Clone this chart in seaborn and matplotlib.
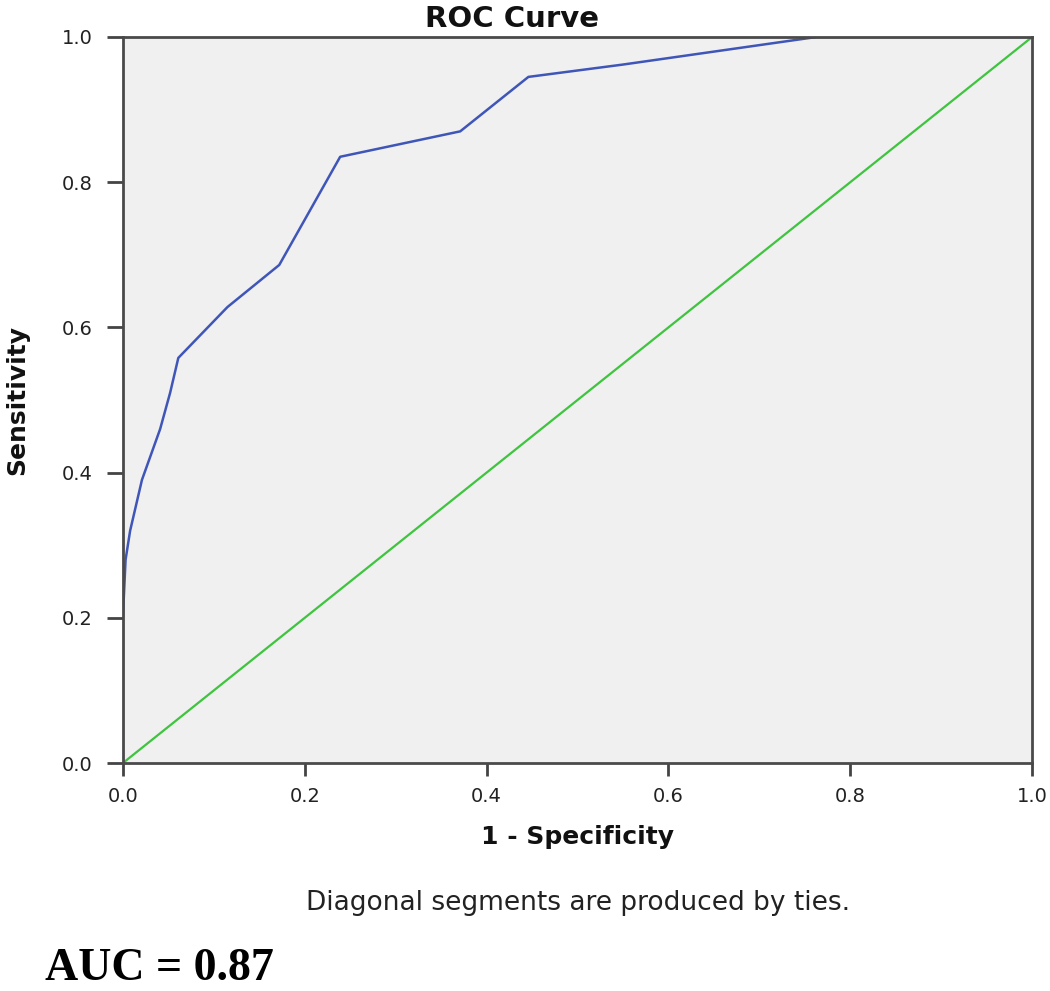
import pandas as pd
import seaborn as sns
from matplotlib import pyplot as plt

# ROC points
fpr = [0.0, 0.0, 0.003, 0.008, 0.021, 0.041, 0.052, 0.061, 0.115, 0.172,
       0.239, 0.371, 0.446, 0.55, 0.763, 1.0]
tpr = [0.0, 0.20, 0.28, 0.32, 0.39, 0.46, 0.51, 0.558, 0.628, 0.686,
       0.835, 0.870, 0.945, 0.962, 1.0, 1.0]
ref_x = [0.0, 1.0]
ref_y = [0.0, 1.0]
ticks = [0.0, 0.2, 0.4, 0.6, 0.8, 1.0]
tick_labels = ["0.0", "0.2", "0.4", "0.6", "0.8", "1.0"]

sns.set_style("ticks")
plt.rcParams['font.family'] = ['DejaVu Sans']

df_roc = pd.DataFrame({"x": fpr, "y": tpr})
df_ref = pd.DataFrame({"x": ref_x, "y": ref_y})

fig = plt.figure(figsize=(10.5, 9.91), dpi=100)
ax = fig.add_axes([0.117, 0.230, 0.866, 0.7327])
ax.set_facecolor("#f0f0f0")

sns.lineplot(data=df_ref, x="x", y="y", ax=ax, color="#3ec43e", linewidth=1.6,
             sort=False, estimator=None)
sns.lineplot(data=df_roc, x="x", y="y", ax=ax, color="#3f56b8", linewidth=1.8,
             sort=False, estimator=None)

ax.set_xlim(0, 1)
ax.set_ylim(0, 1)
ax.set_xticks(ticks)
ax.set_xticklabels(tick_labels)
ax.set_yticks(ticks)
ax.set_yticklabels(tick_labels)
ax.tick_params(axis="both", direction="out", width=2, color="#444444",
               labelsize=14, labelcolor="#222222")
ax.tick_params(axis="y", length=11.5, pad=10)
ax.tick_params(axis="x", length=9, pad=8)
for sp in ax.spines.values():
    sp.set_visible(True)
    sp.set_color("#4a4a4a")
    sp.set_linewidth(2)

ax.set_xlabel("1 - Specificity", fontsize=18, fontweight="bold", labelpad=14,
              color="#111111")
ax.set_ylabel("Sensitivity", fontsize=18, fontweight="bold", labelpad=24,
              color="#111111")
ax.set_title("ROC Curve", fontsize=21, fontweight="bold", x=0.428, pad=7,
             color="#111111")

fig.text(0.551, 1 - 910 / 991, "Diagonal segments are produced by ties.",
         fontsize=19, ha="center", va="baseline", color="#222222")
fig.text(0.043, 1 - 980 / 991, "AUC = 0.87", fontsize=33, fontweight="bold",
         family=["Liberation Serif", "DejaVu Serif"], ha="left", va="baseline",
         color="black")

fig.savefig("out.png", dpi=100)
